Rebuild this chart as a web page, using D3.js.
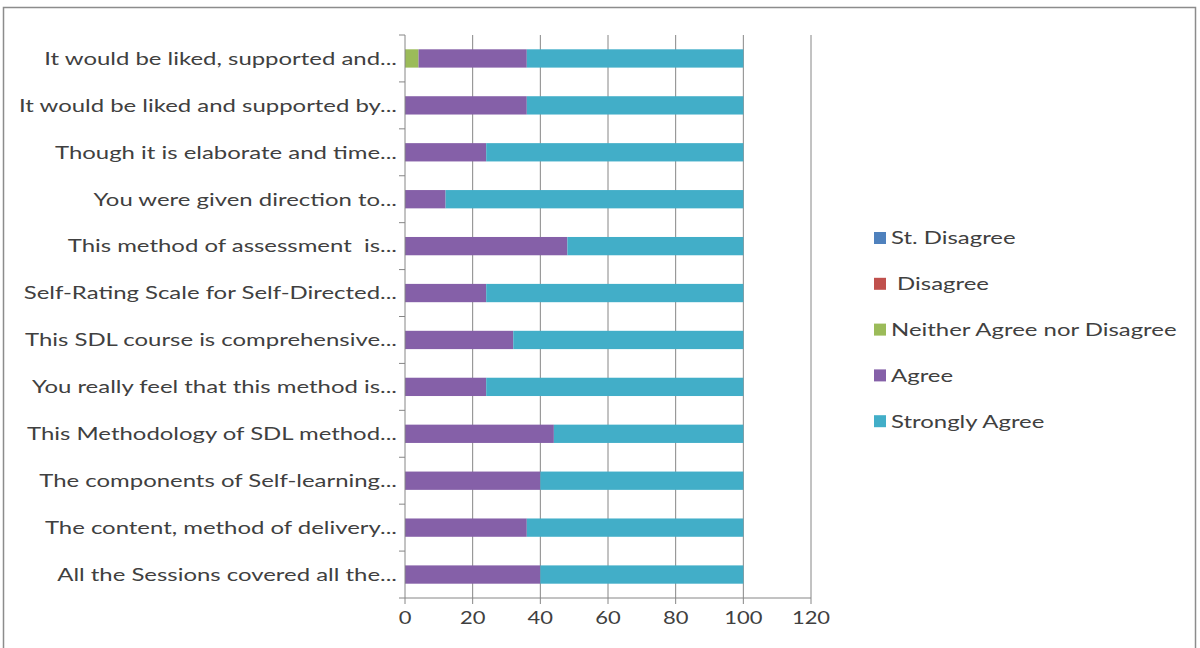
<!DOCTYPE html>
<html><head><meta charset="utf-8">
<script src="https://cdn.jsdelivr.net/npm/d3@7"></script>
<style>body{margin:0;background:#fff}svg{display:block}text{font-family:Lato,"Open Sans",sans-serif;fill:#404040;white-space:pre}</style>
</head><body><svg id="c" width="1200" height="648"></svg>
<script>
const categories = [
 "It would be liked, supported and...",
 "It would be liked and supported by...",
 "Though it is elaborate and time...",
 "You were given direction to...",
 "This method of assessment  is...",
 "Self-Rating Scale for Self-Directed...",
 "This SDL course is comprehensive...",
 "You really feel that this method is...",
 "This Methodology of SDL method...",
 "The components of Self-learning...",
 "The content, method of delivery...",
 "All the Sessions covered all the..."
];
const seriesNames = ["St. Disagree"," Disagree","Neither Agree nor Disagree","Agree","Strongly Agree"];
const stDisagree = [0,0,0,0,0,0,0,0,0,0,0,0];
const disagree   = [0,0,0,0,0,0,0,0,0,0,0,0];
const neither    = [4,0,0,0,0,0,0,0,0,0,0,0];
const agree      = [32,36,24,12,48,24,32,24,44,40,36,40];
const stronglyAgree = [64,64,76,88,52,76,68,76,56,60,64,60];
const xTicks = [0,20,40,60,80,100,120];
const colors = ["#4F81BD","#C0504D","#9BBB59","#8560A8","#42AEC8"];
const SX = 1.33;

const svg = d3.select("#c");
svg.append("rect").attr("x",3.5).attr("y",7.5).attr("width",1192).attr("height",645).attr("fill","none").attr("stroke","#8c8c8c").attr("stroke-width",1.5);

const x = d3.scaleLinear().domain([0,120]).range([405,811]);
const y = d3.scaleBand().domain(categories).range([35,598]).paddingInner(0.61).paddingOuter(0.305);

svg.append("g").selectAll("line").data(xTicks.slice(1)).join("line")
 .attr("x1",d=>x(d)).attr("x2",d=>x(d)).attr("y1",35).attr("y2",598)
 .attr("stroke","#868686").attr("stroke-width",1);

const series = [stDisagree,disagree,neither,agree,stronglyAgree];
const rows = categories.map((c,i)=>{const r={cat:c};seriesNames.forEach((s,j)=>r[s]=series[j][i]);return r;});
const stack = d3.stack().keys(seriesNames)(rows);
svg.append("g").selectAll("g").data(stack).join("g").attr("fill",(d,i)=>colors[i])
 .selectAll("rect").data(d=>d).join("rect")
 .attr("x",d=>x(d[0])).attr("width",d=>Math.max(0,x(d[1])-x(d[0])))
 .attr("y",d=>y(d.data.cat)).attr("height",y.bandwidth());

const yAxis = svg.append("g").attr("transform","translate(405,0)");
yAxis.append("line").attr("x1",0).attr("x2",0).attr("y1",35).attr("y2",598).attr("stroke","#868686");
const bounds = d3.range(categories.length+1).map(i=>35+i*(563/categories.length));
yAxis.selectAll("line.t").data(bounds).join("line").attr("class","t").attr("x1",-6).attr("x2",0).attr("y1",d=>d).attr("y2",d=>d).attr("stroke","#868686");
yAxis.selectAll("text").data(categories).join("text")
 .attr("transform",d=>`translate(-8,${y(d)+y.bandwidth()/2}) scale(${SX},1)`)
 .attr("dy","0.35em").attr("text-anchor","end")
 .attr("font-size",18).text(d=>d);

const xAxis = svg.append("g").attr("transform","translate(0,598)");
xAxis.append("line").attr("x1",405).attr("x2",811).attr("stroke","#868686");
xAxis.selectAll("line.t").data(xTicks).join("line").attr("class","t").attr("x1",d=>x(d)).attr("x2",d=>x(d)).attr("y1",0).attr("y2",6).attr("stroke","#868686");
xAxis.selectAll("text").data(xTicks).join("text")
 .attr("transform",d=>`translate(${x(d)},26) scale(1.22,1)`)
 .attr("text-anchor","middle").attr("font-size",18).text(d=>d);

const lg = svg.append("g");
seriesNames.forEach((s,i)=>{
 const yy = 238 + i*45.8;
 lg.append("rect").attr("x",874).attr("y",yy-6).attr("width",12).attr("height",12).attr("fill",colors[i]);
 lg.append("text").attr("transform",`translate(891,${yy}) scale(${SX},1)`).attr("dy","0.35em").attr("font-size",18).text(s);
});
</script></body></html>
